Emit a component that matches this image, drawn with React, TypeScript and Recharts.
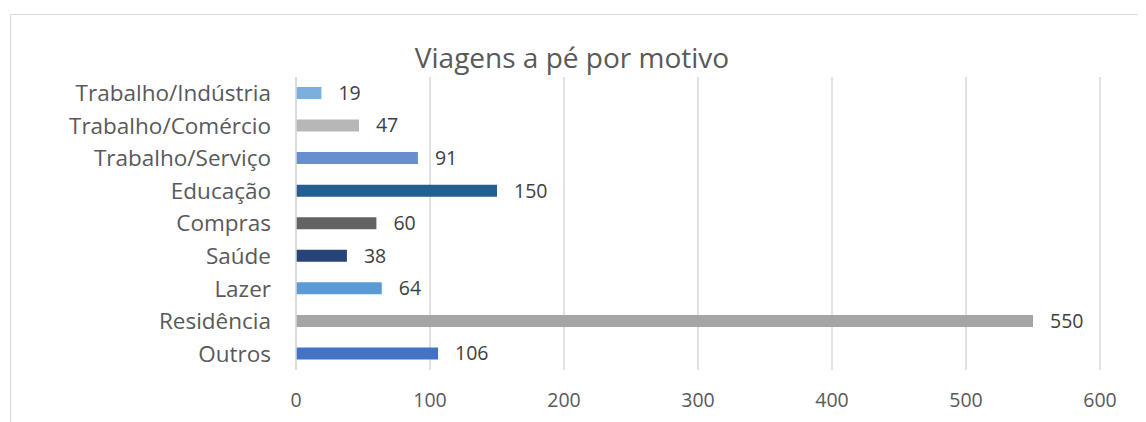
import { BarChart, Bar, XAxis, YAxis, CartesianGrid, Cell, LabelList } from "recharts";

const categories = [
	"Trabalho/Indústria",
	"Trabalho/Comércio",
	"Trabalho/Serviço",
	"Educação",
	"Compras",
	"Saúde",
	"Lazer",
	"Residência",
	"Outros",
];
const trips = [19, 47, 91, 150, 60, 38, 64, 550, 106];
const barColors = [
	"#7CAFDD",
	"#B7B7B7",
	"#698ED0",
	"#255E91",
	"#636363",
	"#264478",
	"#5B9BD5",
	"#A5A5A5",
	"#4472C4",
];
const xTicks = [0, 100, 200, 300, 400, 500, 600];

const data = categories.map((motivo, i) => ({ motivo, viagens: trips[i] }));

const font = "'Open Sans', sans-serif";

export default function App() {
	return (
		<div style={{ position: "relative", width: 1138, height: 414, fontFamily: font }}>
			<div
				style={{
					position: "absolute",
					left: 2,
					top: 6,
					width: 1200,
					height: 500,
					border: "1.5px solid #D9D9D9",
					boxSizing: "border-box",
				}}
			/>
			<div
				style={{
					position: "absolute",
					left: 0,
					width: 1128,
					top: 30,
					textAlign: "center",
					fontSize: 28,
					color: "#595959",
					lineHeight: "38px",
				}}
			>
				Viagens a pé por motivo
			</div>
			<div style={{ position: "absolute", left: 0, top: 0 }}>
				<BarChart
					width={1138}
					height={414}
					data={data}
					layout="vertical"
					margin={{ top: 69, right: 46, left: 0, bottom: 0 }}
				>
					<CartesianGrid horizontal={false} stroke="#D9D9D9" strokeWidth={1.5} />
					<XAxis
						type="number"
						domain={[0, 600]}
						ticks={xTicks}
						axisLine={false}
						tickLine={false}
						height={52}
						tickMargin={17}
						tick={{ fill: "#595959", fontSize: 19.5 }}
					/>
					<YAxis
						type="category"
						dataKey="motivo"
						width={288}
						axisLine={{ stroke: "#D9D9D9", strokeWidth: 1.5 }}
						tickLine={false}
						tickMargin={19}
						interval={0}
						tick={{ fill: "#595959", fontSize: 22.5 }}
					/>
					<Bar dataKey="viagens" barSize={12} isAnimationActive={false}>
						{data.map((d, i) => (
							<Cell key={d.motivo} fill={barColors[i]} />
						))}
						<LabelList
							dataKey="viagens"
							position="right"
							offset={17}
							fill="#404040"
							fontSize={19.5}
						/>
					</Bar>
				</BarChart>
			</div>
		</div>
	);
}
